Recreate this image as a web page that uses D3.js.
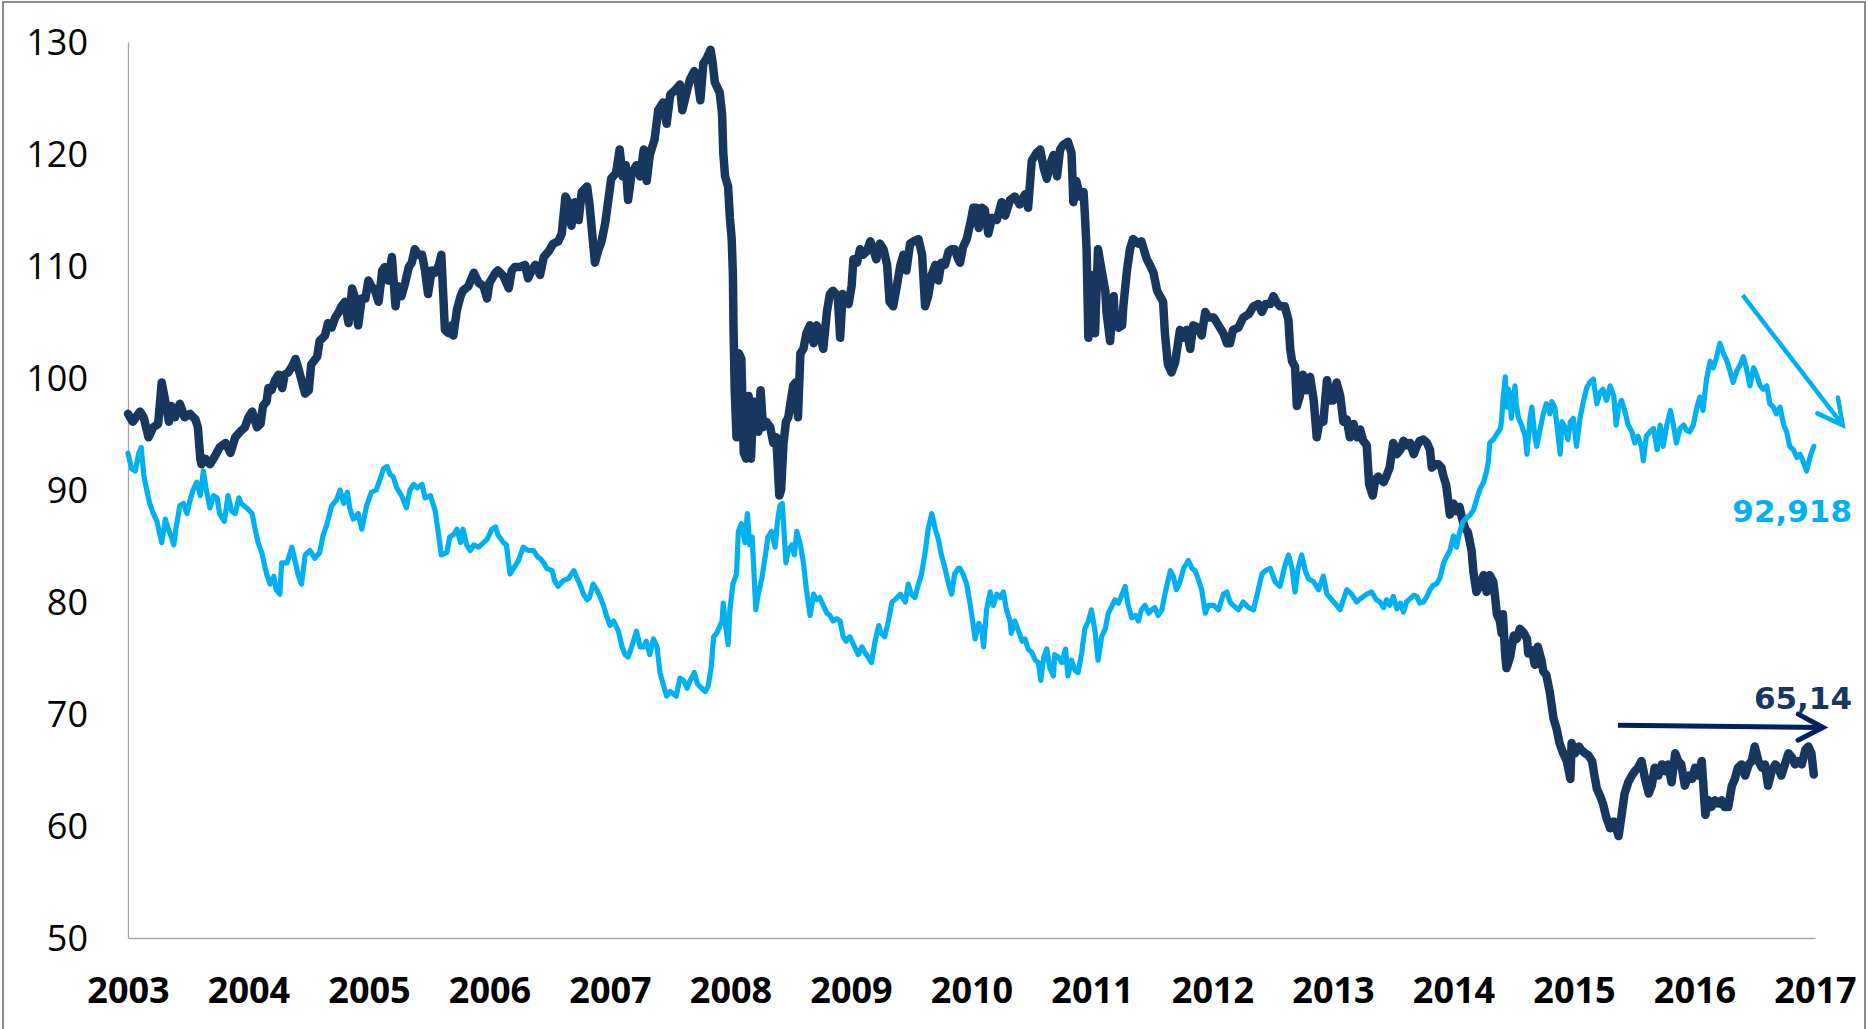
<!DOCTYPE html>
<html><head><meta charset="utf-8">
<script src="https://cdn.jsdelivr.net/npm/d3@7"></script>
<style>html,body{margin:0;padding:0;background:#fff;overflow:hidden}</style>
</head><body>
<svg id="chart" width="1868" height="1029"></svg>
<script>
// ---------- data ----------
const yearTicks = [2003,2004,2005,2006,2007,2008,2009,2010,2011,2012,2013,2014,2015,2016,2017];
const valueTicks = [50,60,70,80,90,100,110,120,130];

// dark navy series: [decimal year, value]
const darkSeries = [
[2003.00,96.8],[2003.04,96.1],[2003.10,97.0],[2003.13,96.5],[2003.17,94.7],[2003.21,95.6],[2003.25,95.9],[2003.28,99.6],[2003.31,97.9],[2003.34,96.1],[2003.36,97.5],[2003.39,96.5],[2003.43,97.7],[2003.47,96.5],[2003.515,96.8],[2003.56,96.3],[2003.58,95.6],[2003.60,92.8],[2003.61,92.3],[2003.64,92.8],[2003.68,92.3],[2003.72,93.0],[2003.76,93.8],[2003.81,94.2],[2003.85,93.3],[2003.89,94.7],[2003.93,95.2],[2003.97,95.6],[2004.00,96.5],[2004.03,97.0],[2004.07,95.6],[2004.10,95.9],[2004.12,97.5],[2004.15,97.9],[2004.165,99.1],[2004.19,98.9],[2004.22,99.8],[2004.25,100.3],[2004.28,99.1],[2004.30,100.3],[2004.33,100.5],[2004.36,101.0],[2004.39,101.7],[2004.41,101.0],[2004.44,99.8],[2004.47,98.6],[2004.50,98.9],[2004.52,101.2],[2004.57,101.9],[2004.59,103.3],[2004.635,103.8],[2004.66,104.9],[2004.69,104.5],[2004.72,105.4],[2004.75,105.9],[2004.77,106.4],[2004.80,106.8],[2004.83,104.9],[2004.86,108.0],[2004.88,107.3],[2004.91,104.7],[2004.94,107.1],[2004.97,107.1],[2004.995,108.7],[2005.02,108.2],[2005.05,107.8],[2005.08,106.8],[2005.11,109.6],[2005.13,109.9],[2005.16,108.7],[2005.19,110.8],[2005.22,106.4],[2005.24,108.2],[2005.27,107.3],[2005.30,108.5],[2005.33,109.9],[2005.355,110.3],[2005.38,111.5],[2005.41,111.0],[2005.44,111.0],[2005.465,109.6],[2005.49,107.5],[2005.52,109.6],[2005.55,109.4],[2005.58,110.1],[2005.60,111.0],[2005.63,104.3],[2005.66,104.0],[2005.69,104.7],[2005.70,103.8],[2005.73,106.1],[2005.76,107.3],[2005.78,107.8],[2005.825,108.2],[2005.87,109.4],[2005.91,108.5],[2005.95,108.2],[2005.98,107.1],[2006.00,108.5],[2006.05,109.4],[2006.07,109.6],[2006.115,109.1],[2006.16,108.0],[2006.185,109.6],[2006.21,109.9],[2006.25,109.9],[2006.295,110.1],[2006.32,108.9],[2006.35,109.6],[2006.38,110.1],
[2006.42,109.2],[2006.45,110.8],[2006.49,111.3],[2006.53,112.0],[2006.57,112.2],[2006.60,112.9],[2006.63,116.2],[2006.655,115.7],[2006.68,113.6],[2006.71,115.7],[2006.74,114.1],[2006.765,116.6],[2006.81,117.1],[2006.83,115.5],[2006.86,112.0],[2006.875,110.3],[2006.90,111.3],[2006.93,112.2],[2006.96,113.8],[2006.99,116.2],[2007.01,117.8],[2007.05,118.3],[2007.08,120.4],[2007.105,118.0],[2007.13,119.0],[2007.15,115.9],[2007.18,118.3],[2007.22,119.0],[2007.25,118.0],[2007.28,120.4],[2007.305,117.6],[2007.33,119.9],[2007.37,121.3],[2007.40,123.9],[2007.44,124.6],[2007.47,122.7],[2007.50,125.3],[2007.54,125.7],[2007.58,126.2],[2007.60,123.9],[2007.64,125.7],[2007.665,126.7],[2007.70,127.4],[2007.725,126.7],[2007.75,124.8],[2007.775,128.1],[2007.80,128.5],[2007.835,129.3],[2007.85,128.3],[2007.87,126.4],[2007.91,125.5],[2007.93,123.6],[2007.94,120.1],[2007.955,118.0],[2007.98,117.1],[2007.995,114.3],[2008.01,112.4],[2008.02,109.2],[2008.025,104.5],[2008.035,98.9],[2008.05,94.7],[2008.07,102.2],[2008.09,101.7],[2008.11,93.3],[2008.13,92.8],[2008.15,98.4],[2008.17,92.8],[2008.19,97.9],[2008.21,97.5],[2008.23,95.2],[2008.25,98.9],[2008.27,95.6],[2008.295,96.1],[2008.33,95.6],[2008.355,94.2],[2008.38,94.7],[2008.405,89.5],[2008.42,90.0],[2008.44,94.2],[2008.46,96.1],[2008.48,96.5],[2008.50,97.9],[2008.52,99.3],[2008.54,99.6],[2008.56,96.5],[2008.58,102.2],[2008.605,102.6],[2008.63,104.0],[2008.66,104.7],[2008.69,103.1],[2008.715,104.7],[2008.74,104.0],[2008.77,102.6],[2008.80,105.9],[2008.825,107.5],[2008.85,107.8],[2008.89,107.3],[2008.91,103.6],[2008.93,107.5],[2008.95,107.3],[2008.98,106.6],[2009.005,108.2],[2009.02,110.6],[2009.05,110.3],[2009.075,111.5],[2009.10,111.0],[2009.13,111.3],[2009.16,112.2],[2009.185,111.5],[2009.21,110.6],[2009.24,112.0],[2009.27,111.5],[2009.30,110.1],[2009.32,106.8],[2009.35,106.4],[2009.38,108.2],[2009.41,110.1],[2009.435,111.0],[2009.46,109.6],[2009.49,112.0],[2009.52,112.2],[2009.56,112.4],[2009.59,111.0],[2009.615,106.4],[2009.64,107.3],[2009.67,109.2],[2009.70,110.1],[2009.725,108.7],[2009.75,110.3],[2009.78,110.1],[2009.81,111.3],[2009.835,111.5],[2009.86,111.5],[2009.89,110.6],
[2009.905,110.3],[2009.93,111.7],[2009.96,112.4],[2009.99,113.8],[2010.015,115.2],[2010.04,115.2],[2010.06,113.4],[2010.085,115.2],[2010.11,115.0],[2010.14,112.9],[2010.17,114.3],[2010.21,114.1],[2010.25,115.7],[2010.28,114.5],[2010.32,115.9],[2010.36,116.2],[2010.40,115.5],[2010.445,116.4],[2010.47,115.2],[2010.50,119.4],[2010.54,120.1],[2010.57,120.4],[2010.60,118.7],[2010.625,117.8],[2010.65,119.0],[2010.68,119.9],[2010.71,118.0],[2010.735,120.4],[2010.76,120.8],[2010.80,121.1],[2010.83,120.1],[2010.845,115.7],[2010.87,117.6],[2010.90,116.2],[2010.93,116.6],[2010.94,114.8],[2010.955,111.5],[2010.97,103.6],[2010.995,109.2],[2011.025,104.0],[2011.05,111.5],[2011.08,109.6],[2011.11,107.8],[2011.12,105.9],[2011.15,103.3],[2011.18,107.3],[2011.19,105.0],[2011.22,104.5],[2011.25,104.7],[2011.26,106.4],[2011.29,109.6],[2011.315,111.5],[2011.34,112.4],[2011.385,112.0],[2011.41,112.2],[2011.455,110.6],[2011.48,110.1],[2011.51,109.4],[2011.54,107.8],[2011.565,107.3],[2011.59,106.8],[2011.605,104.0],[2011.63,101.2],[2011.66,100.5],[2011.69,101.4],[2011.73,104.3],[2011.76,103.6],[2011.785,104.3],[2011.815,102.6],[2011.84,104.7],[2011.88,104.5],[2011.91,103.8],[2011.94,105.9],[2011.965,105.4],[2012.01,105.4],[2012.05,104.7],[2012.09,104.0],[2012.12,103.1],[2012.145,103.1],[2012.17,104.3],[2012.215,104.5],[2012.255,105.4],[2012.30,105.7],[2012.34,106.4],[2012.38,106.6],[2012.41,105.9],[2012.44,106.6],[2012.48,106.6],[2012.505,107.3],[2012.53,106.8],[2012.56,106.4],[2012.60,106.4],[2012.63,105.2],[2012.645,102.6],[2012.66,101.5],[2012.685,101.0],[2012.70,97.5],[2012.725,98.4],[2012.75,100.3],[2012.78,98.9],[2012.81,100.1],[2012.84,98.0],[2012.865,94.7],[2012.89,96.3],[2012.92,96.1],[2012.95,99.8],[2012.975,98.0],[2013.00,98.0],[2013.03,99.6],[2013.06,98.4],[2013.086,96.1],[2013.114,96.3],[2013.14,94.7],[2013.17,95.9],[2013.20,94.7],[2013.225,95.4],[2013.25,94.4],[2013.28,94.0],[2013.30,90.5],[2013.33,89.5],[2013.35,90.9],[2013.375,91.2],
[2013.39,91.0],[2013.42,90.7],[2013.445,91.3],[2013.47,92.0],[2013.50,94.2],[2013.53,93.2],[2013.56,93.6],[2013.585,94.4],[2013.61,94.0],[2013.64,94.2],[2013.67,93.2],[2013.695,93.9],[2013.72,94.4],[2013.75,94.5],[2013.78,94.2],[2013.805,93.6],[2013.82,92.0],[2013.85,92.3],[2013.875,92.3],[2013.90,92.0],[2013.915,91.3],[2013.94,90.4],[2013.97,87.8],[2014.00,88.8],[2014.025,88.1],[2014.05,88.5],[2014.07,87.5],[2014.095,86.6],[2014.12,86.2],[2014.15,84.6],[2014.165,82.7],[2014.19,80.9],[2014.22,81.5],[2014.25,82.4],[2014.275,80.9],[2014.30,82.4],[2014.33,81.8],[2014.345,80.5],[2014.36,78.9],[2014.385,78.3],[2014.40,77.2],[2014.41,78.9],[2014.43,75.1],[2014.44,74.1],[2014.47,75.1],[2014.50,77.0],[2014.525,76.7],[2014.55,77.6],[2014.58,77.3],[2014.61,76.7],[2014.62,75.4],[2014.65,75.7],[2014.675,74.4],[2014.70,76.0],[2014.73,74.8],[2014.745,73.8],[2014.77,73.5],[2014.80,71.9],[2014.83,69.6],[2014.855,68.7],[2014.88,67.4],[2014.91,66.5],[2014.94,65.8],[2014.97,64.2],[2014.98,67.4],[2015.01,66.5],[2015.04,67.1],[2015.06,66.8],[2015.09,66.5],[2015.12,66.3],[2015.15,65.8],[2015.17,64.5],[2015.19,63.3],[2015.22,62.6],[2015.24,62.0],[2015.27,60.7],[2015.30,59.8],[2015.33,60.4],[2015.35,59.8],[2015.37,59.1],[2015.395,61.0],[2015.42,62.9],[2015.45,63.9],[2015.48,64.5],[2015.505,64.9],[2015.53,65.2],[2015.56,65.8],[2015.59,64.2],[2015.62,62.9],[2015.645,63.6],[2015.67,65.2],[2015.70,64.5],[2015.73,65.5],[2015.755,64.9],[2015.78,65.5],[2015.81,63.9],[2015.84,66.5],[2015.865,65.8],[2015.89,65.5],[2015.92,63.6],[2015.95,64.5],[2015.98,64.2],[2016.005,65.2],[2016.03,64.5],[2016.06,65.8],[2016.09,61.0],[2016.115,62.3],[2016.14,61.7],[2016.17,62.3],[2016.20,62.0],[2016.225,62.3],[2016.25,61.7],[2016.28,61.7],[2016.31,63.6],[2016.335,64.2],[2016.36,65.2],[2016.39,65.5],[2016.42,64.5],[2016.45,65.5],[2016.475,65.8],[2016.50,67.1],[2016.53,65.8],[2016.56,65.2],[2016.585,65.5],[2016.61,63.6],[2016.64,64.9],[2016.67,65.5],[2016.695,65.2],[2016.72,64.5],[2016.75,65.5],[2016.78,66.5],[2016.81,66.1],[2016.835,65.5],[2016.86,65.8],[2016.89,65.5],[2016.92,66.8],[2016.945,67.1],[2016.97,66.5],[2016.99,64.6]
];

// light blue series: [decimal year, value]
const lightSeries = [
[2003.00,93.3],[2003.03,91.9],[2003.06,91.7],[2003.09,93.3],[2003.11,93.8],[2003.13,91.4],[2003.155,90.0],[2003.18,88.8],[2003.21,87.9],[2003.24,87.2],[2003.265,86.0],[2003.28,85.3],[2003.31,87.4],[2003.335,86.5],[2003.36,85.8],[2003.38,85.1],[2003.40,86.7],[2003.43,88.6],[2003.46,88.8],[2003.49,87.9],[2003.515,89.1],[2003.54,90.0],[2003.57,90.7],[2003.60,89.5],[2003.625,91.7],[2003.65,90.0],[2003.68,88.4],[2003.71,89.5],[2003.74,89.3],[2003.76,87.9],[2003.80,87.2],[2003.83,89.5],[2003.86,88.1],[2003.89,87.9],[2003.92,89.3],[2003.94,88.8],[2003.985,88.4],[2004.03,87.9],[2004.055,86.5],[2004.08,85.3],[2004.11,84.4],[2004.15,82.5],[2004.18,81.6],[2004.21,82.3],[2004.23,81.1],[2004.26,80.7],[2004.275,83.5],[2004.32,83.5],[2004.36,84.9],[2004.39,83.5],[2004.41,82.5],[2004.44,81.6],[2004.47,84.2],[2004.51,84.6],[2004.55,83.9],[2004.59,84.4],[2004.62,86.0],[2004.65,86.9],[2004.69,88.6],[2004.73,89.1],[2004.76,90.0],[2004.79,88.8],[2004.82,89.8],[2004.84,88.4],[2004.87,87.4],[2004.91,87.9],[2004.94,86.5],[2004.98,88.6],[2005.02,89.8],[2005.06,90.0],[2005.09,90.9],[2005.12,91.9],[2005.15,92.1],[2005.175,91.4],[2005.20,91.2],[2005.23,90.2],[2005.27,89.5],[2005.31,88.4],[2005.34,90.0],[2005.37,90.5],[2005.40,90.2],[2005.44,90.5],[2005.465,89.3],[2005.51,89.5],[2005.55,88.1],[2005.575,86.2],[2005.60,84.2],[2005.645,84.4],[2005.67,85.8],[2005.70,86.0],[2005.73,86.5],[2005.76,85.3],[2005.78,86.5],[2005.81,85.1],[2005.84,84.6],[2005.87,85.1],[2005.91,84.9],[2005.95,85.3],[2005.98,85.6],[2006.02,86.5],[2006.05,86.7],[2006.07,86.0],[2006.115,85.3],[2006.14,85.1],[2006.17,82.5],[2006.20,83.0],[2006.24,83.7],[2006.28,84.9],[2006.32,84.6],[2006.365,84.6],[2006.40,84.0],
[2006.42,83.9],[2006.45,83.5],[2006.475,83.0],[2006.52,82.8],[2006.54,81.9],[2006.57,81.4],[2006.61,81.9],[2006.655,82.1],[2006.70,82.8],[2006.72,82.3],[2006.75,81.6],[2006.78,80.7],[2006.81,80.2],[2006.83,80.4],[2006.86,81.6],[2006.89,81.1],[2006.92,80.4],[2006.945,79.7],[2006.97,78.8],[2007.00,77.9],[2007.03,78.3],[2007.07,77.4],[2007.10,76.0],[2007.125,75.3],[2007.15,75.1],[2007.18,76.0],[2007.22,77.4],[2007.25,76.0],[2007.28,76.0],[2007.30,76.5],[2007.33,75.3],[2007.36,76.7],[2007.39,76.0],[2007.415,73.7],[2007.44,72.7],[2007.47,71.6],[2007.50,72.0],[2007.525,71.8],[2007.55,71.6],[2007.58,73.2],[2007.61,73.0],[2007.64,72.3],[2007.665,73.0],[2007.70,73.7],[2007.725,72.7],[2007.76,72.3],[2007.79,72.0],[2007.815,72.5],[2007.84,74.2],[2007.86,76.9],[2007.885,77.2],[2007.93,78.3],[2007.94,79.9],[2007.955,78.3],[2007.98,76.2],[2007.995,79.3],[2008.02,81.6],[2008.05,82.5],[2008.065,86.3],[2008.09,87.0],[2008.12,85.3],[2008.14,87.9],[2008.16,85.1],[2008.18,85.8],[2008.21,79.3],[2008.23,80.7],[2008.26,82.1],[2008.29,84.2],[2008.31,85.8],[2008.34,86.3],[2008.37,84.9],[2008.39,87.2],[2008.41,88.6],[2008.43,88.8],[2008.46,83.5],[2008.48,84.6],[2008.51,85.1],[2008.53,84.2],[2008.55,86.3],[2008.58,85.1],[2008.605,83.5],[2008.63,81.1],[2008.66,78.8],[2008.69,80.7],[2008.715,80.2],[2008.74,80.4],[2008.77,79.7],[2008.80,79.0],[2008.825,78.8],[2008.85,78.3],[2008.88,78.5],[2008.91,78.3],[2008.935,76.9],[2008.96,76.5],[2008.99,76.9],[2009.03,76.0],[2009.06,75.3],[2009.09,76.0],[2009.115,75.5],[2009.14,75.1],[2009.17,74.6],[2009.20,76.5],[2009.23,77.9],[2009.25,77.2],[2009.28,76.9],[2009.31,78.3],[2009.34,80.0],[2009.365,80.2],[2009.41,80.7],[2009.45,80.0],[2009.475,81.6],[2009.50,80.7],[2009.53,80.4],[2009.56,81.6],[2009.585,82.5],[2009.615,84.4],[2009.64,86.5],[2009.67,87.9],[2009.70,86.5],[2009.725,85.6],[2009.75,84.2],[2009.78,83.0],[2009.81,81.6],[2009.835,80.7],[2009.86,82.5],[2009.89,83.0],
[2009.905,83.0],[2009.93,82.5],[2009.96,81.6],[2009.99,79.7],[2010.015,77.9],[2010.03,76.7],[2010.06,78.1],[2010.085,77.6],[2010.10,76.0],[2010.125,79.3],[2010.155,80.9],[2010.18,79.7],[2010.21,80.7],[2010.24,80.4],[2010.265,80.9],[2010.29,79.3],[2010.32,78.3],[2010.33,77.2],[2010.36,78.3],[2010.39,77.4],[2010.42,76.5],[2010.445,76.7],[2010.47,75.8],[2010.50,75.5],[2010.53,74.8],[2010.555,74.6],[2010.575,73.0],[2010.60,75.1],[2010.625,75.8],[2010.65,74.1],[2010.68,73.4],[2010.69,75.3],[2010.72,75.1],[2010.75,74.6],[2010.78,75.8],[2010.80,73.4],[2010.83,74.8],[2010.86,73.9],[2010.885,73.7],[2010.915,75.5],[2010.94,77.6],[2010.97,78.3],[2010.995,79.3],[2011.025,77.4],[2011.05,74.8],[2011.08,76.9],[2011.11,77.6],[2011.135,79.0],[2011.16,79.5],[2011.19,80.2],[2011.22,79.9],[2011.25,80.7],[2011.275,81.4],[2011.30,79.7],[2011.33,78.6],[2011.36,78.8],[2011.385,78.3],[2011.41,79.3],[2011.44,79.7],[2011.47,79.0],[2011.495,79.3],[2011.52,79.5],[2011.55,78.8],[2011.58,79.3],[2011.605,80.7],[2011.65,82.8],[2011.675,82.3],[2011.70,81.1],[2011.73,81.8],[2011.76,83.0],[2011.80,83.7],[2011.83,83.0],[2011.855,82.8],[2011.88,82.1],[2011.91,81.1],[2011.94,79.0],[2011.965,79.7],[2012.01,79.7],[2012.05,79.3],[2012.09,80.7],[2012.12,80.9],[2012.145,80.0],[2012.17,79.7],[2012.215,79.3],[2012.255,80.0],[2012.30,79.5],[2012.34,79.3],[2012.38,81.1],[2012.41,82.5],[2012.44,82.8],[2012.48,83.0],[2012.52,81.8],[2012.56,81.4],[2012.60,83.2],[2012.63,84.2],[2012.66,83.0],[2012.685,80.9],[2012.71,83.0],[2012.74,84.2],[2012.77,82.8],[2012.795,82.1],[2012.84,81.8],[2012.88,81.1],[2012.92,82.3],[2012.95,80.7],[2012.99,80.2],[2013.03,79.7],[2013.06,79.3],[2013.085,80.2],[2013.115,81.1],[2013.155,80.7],[2013.195,80.0],[2013.24,80.4],[2013.28,80.7],[2013.32,80.9],[2013.36,80.2],
[2013.39,80.0],[2013.42,79.5],[2013.445,80.2],[2013.47,79.7],[2013.50,80.5],[2013.53,79.4],[2013.56,79.9],[2013.585,79.1],[2013.61,80.0],[2013.64,80.3],[2013.67,80.6],[2013.695,80.5],[2013.72,79.9],[2013.75,80.0],[2013.78,80.5],[2013.805,81.1],[2013.83,81.5],[2013.86,81.6],[2013.89,82.2],[2013.915,83.4],[2013.94,84.0],[2013.97,84.6],[2014.00,85.9],[2014.025,84.9],[2014.05,86.2],[2014.08,87.2],[2014.11,87.5],[2014.14,87.8],[2014.165,88.2],[2014.19,89.1],[2014.22,90.1],[2014.25,90.7],[2014.275,91.7],[2014.29,92.6],[2014.30,94.2],[2014.33,94.5],[2014.36,95.0],[2014.39,95.5],[2014.40,96.4],[2014.41,98.0],[2014.43,100.1],[2014.44,97.4],[2014.455,99.0],[2014.47,98.4],[2014.48,96.4],[2014.495,98.0],[2014.51,99.3],[2014.52,97.7],[2014.54,96.4],[2014.565,95.8],[2014.595,94.8],[2014.61,93.2],[2014.635,96.4],[2014.65,97.4],[2014.675,94.8],[2014.69,93.9],[2014.72,95.5],[2014.745,96.8],[2014.77,97.7],[2014.80,96.8],[2014.815,97.9],[2014.84,97.4],[2014.855,96.1],[2014.885,93.2],[2014.90,96.1],[2014.925,95.6],[2014.95,94.5],[2014.97,96.1],[2014.995,96.4],[2015.02,93.9],[2015.05,96.4],[2015.08,98.0],[2015.105,99.1],[2015.13,99.6],[2015.16,99.9],[2015.19,97.7],[2015.215,98.7],[2015.24,99.0],[2015.27,98.0],[2015.30,99.3],[2015.33,98.4],[2015.35,95.8],[2015.37,97.4],[2015.395,98.0],[2015.42,97.1],[2015.45,95.8],[2015.48,95.2],[2015.505,94.2],[2015.53,94.8],[2015.56,93.9],[2015.575,92.6],[2015.60,94.8],[2015.63,95.2],[2015.66,95.5],[2015.69,93.6],[2015.715,95.8],[2015.74,93.9],[2015.77,95.8],[2015.80,97.1],[2015.825,95.8],[2015.85,94.2],[2015.88,95.5],[2015.91,95.8],[2015.935,95.3],[2015.96,95.2],[2015.99,95.8],[2016.02,97.4],[2016.045,98.3],[2016.07,97.1],[2016.10,99.9],[2016.13,101.5],[2016.155,100.9],[2016.18,101.7],[2016.21,103.1],[2016.24,102.2],[2016.27,101.5],[2016.295,100.6],[2016.32,99.6],[2016.35,100.6],[2016.38,101.2],[2016.405,101.9],[2016.43,100.9],[2016.46,99.3],[2016.49,100.9],[2016.515,100.3],[2016.545,99.3],[2016.57,99.0],[2016.60,99.3],[2016.625,97.7],[2016.655,97.4],[2016.68,96.8],[2016.71,97.4],[2016.74,95.8],[2016.765,95.2],[2016.79,93.9],[2016.82,93.6],[2016.85,92.9],[2016.875,93.2],[2016.90,92.6],[2016.93,91.7],[2016.96,93.0],[2016.99,93.9]
];

// annotations (data space)
const endLabels = [
  {text: "92,918", at: [2017.307, 87.14], cls: "light"},
  {text: "65,14",  at: [2017.307, 70.45], cls: "dark"}
];
const trendArrows = [
  {from: [2016.40, 107.4], to: [2017.23, 95.8], cls: "light"},
  {from: [2015.365, 69.0], to: [2017.066, 68.8], cls: "dark"}
];

// ---------- drawing ----------
const W = 1868, H = 1029;
const colors = {dark: "#17375E", light: "#00B0F0", darkArrow: "#002060"};
const svg = d3.select("#chart");

svg.append("rect").attr("width", W).attr("height", H).attr("fill", "#fff");
svg.append("rect").attr("x", 3).attr("y", 2).attr("width", 1862).attr("height", 1060)
  .attr("fill", "none").attr("stroke", "#8c8c8c").attr("stroke-width", 2);

const x = d3.scaleLinear().domain([yearTicks[0], yearTicks[yearTicks.length-1]]).range([128, 1815]);
const y = d3.scaleLinear().domain([valueTicks[0], valueTicks[valueTicks.length-1]]).range([938, 42]);

// axes
const yAxis = svg.append("g").attr("transform", `translate(${x.range()[0]},0)`)
  .call(d3.axisLeft(y).tickValues(valueTicks).tickSize(0).tickSizeOuter(0).tickPadding(40).tickFormat(d3.format("d")));
yAxis.select(".domain").attr("stroke", "#a6a6a6").attr("stroke-width", 1.3);
yAxis.selectAll("text").attr("font-family", "'Open Sans', sans-serif").attr("font-size", 36)
  .attr("fill", "#000").attr("dy", "0.36em");

const xAxis = svg.append("g").attr("transform", `translate(0,${y.range()[0]})`)
  .call(d3.axisBottom(x).tickValues(yearTicks).tickSize(0).tickSizeOuter(0).tickPadding(39).tickFormat(d3.format("d")));
xAxis.select(".domain").attr("stroke", "#a6a6a6").attr("stroke-width", 1.3);
xAxis.selectAll("text").attr("font-family", "'Open Sans', sans-serif").attr("font-size", 36)
  .attr("font-weight", "bold").attr("fill", "#000");

// lines
const line = d3.line().x(d => x(d[0])).y(d => y(d[1]));
svg.append("path").datum(darkSeries).attr("d", line).attr("fill", "none")
  .attr("stroke", colors.dark).attr("stroke-width", 8.5).attr("stroke-linejoin", "round").attr("stroke-linecap", "round");
svg.append("path").datum(lightSeries).attr("d", line).attr("fill", "none")
  .attr("stroke", colors.light).attr("stroke-width", 5.2).attr("stroke-linejoin", "round").attr("stroke-linecap", "round");

// arrows
trendArrows.forEach(a => {
  const x1 = x(a.from[0]), y1 = y(a.from[1]), x2 = x(a.to[0]), y2 = y(a.to[1]);
  const col = a.cls === "light" ? colors.light : colors.darkArrow;
  const sw = a.cls === "light" ? 4.5 : 5;
  const ang = Math.atan2(y2 - y1, x2 - x1);
  const len = 28, spread = Math.PI / 6.5;
  const p1 = [x2 - len * Math.cos(ang - spread), y2 - len * Math.sin(ang - spread)];
  const p2 = [x2 - len * Math.cos(ang + spread), y2 - len * Math.sin(ang + spread)];
  svg.append("line").attr("x1", x1).attr("y1", y1).attr("x2", x2).attr("y2", y2)
    .attr("stroke", col).attr("stroke-width", sw);
  svg.append("path").attr("d", `M${p1[0]},${p1[1]}L${x2},${y2}L${p2[0]},${p2[1]}`)
    .attr("fill", "none").attr("stroke", col).attr("stroke-width", sw)
    .attr("stroke-linejoin", "miter").attr("stroke-linecap", "round");
});

// end value labels
endLabels.forEach(l => {
  svg.append("text").attr("x", x(l.at[0])).attr("y", y(l.at[1]))
    .attr("text-anchor", "end").attr("font-family", "'DejaVu Sans', sans-serif")
    .attr("font-weight", "bold").attr("font-size", 31)
    .attr("fill", l.cls === "light" ? colors.light : colors.dark).text(l.text);
});
</script>
</body></html>
